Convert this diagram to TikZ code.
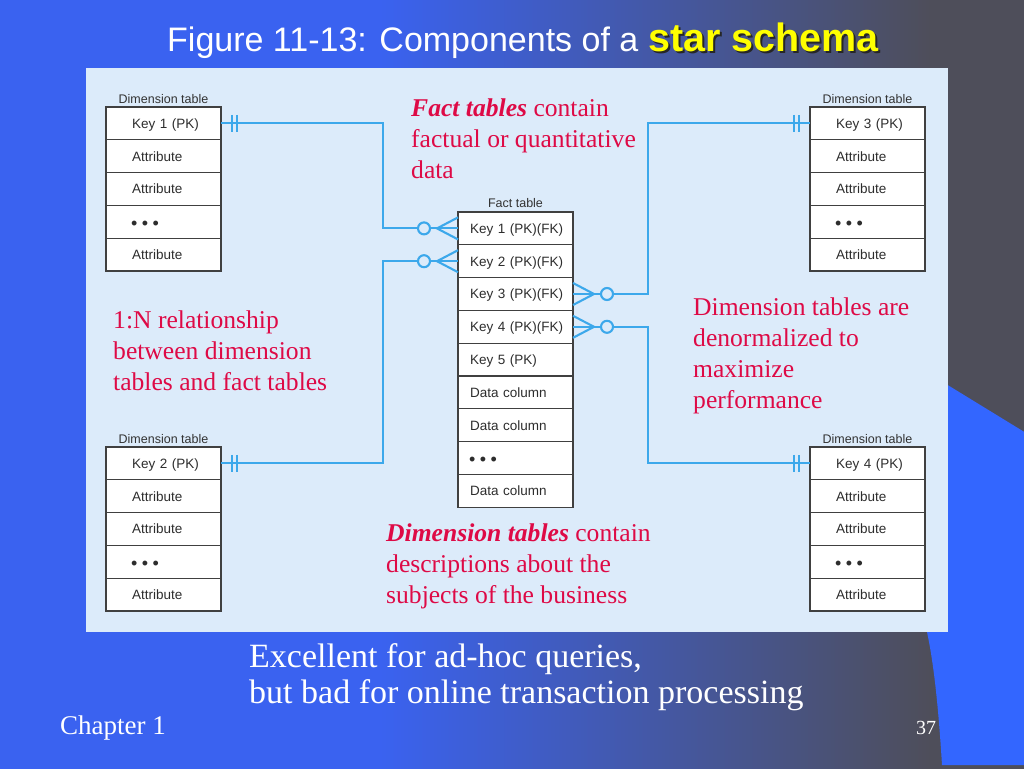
\documentclass[tikz,border=0pt]{standalone}
\usepackage{fontspec}
\setmainfont{Liberation Serif}
\newfontfamily\arialf{Liberation Sans}
\usetikzlibrary{calc}
\definecolor{bgblue}{RGB}{58,98,240}
\definecolor{bggray}{RGB}{78,78,90}
\definecolor{shapeblue}{RGB}{51,102,255}
\definecolor{panelc}{RGB}{220,235,250}
\definecolor{connc}{RGB}{60,168,235}
\definecolor{redtxt}{RGB}{222,10,70}
\definecolor{titleyellow}{RGB}{255,255,0}
\definecolor{celltxt}{RGB}{45,45,45}
\tikzset{
  cell/.style={draw=black!75, fill=white, line width=1.1pt, minimum height=32.8pt,
    text width=115pt, inner xsep=0pt, inner ysep=0pt, outer sep=0pt, align=left,
    text height=11.5pt, text depth=1.8pt,
    font=\arialf\fontsize{13.5}{15}\selectfont, text=celltxt, anchor=north},
  lbl/.style={font=\arialf\fontsize{12.5}{14}\selectfont, text=black!80, anchor=base, inner sep=0pt},
  conn/.style={draw=connc, line width=2.1pt},
  redt/.style={font=\fontsize{25.6}{31}\selectfont, text=redtxt, align=left, anchor=base west, inner sep=0pt},
  whitet/.style={text=white, align=left, anchor=base west, inner sep=0pt},
  onemark/.pic={\draw[conn] (11,-8.5) -- (11,8.5) (16,-8.5) -- (16,8.5);},
  zeromany/.pic={\draw[conn] (0,-11) -- (-21,0) -- (0,11);
                 \draw[conn, fill=panelc] (-34,0) circle (6);}
}
\newcommand\tdots{\raisebox{-3pt}{\fontsize{18}{15}\selectfont\textbullet\hspace{4.5pt}\textbullet\hspace{4.5pt}\textbullet}}
\newcommand\dimtab[4]{%
  \node[cell] (#1-1) at (#2,#3) {\hspace*{26pt}#4};
  \node[cell] (#1-2) at (#1-1.south) {\hspace*{26pt}Attribute};
  \node[cell] (#1-3) at (#1-2.south) {\hspace*{26pt}Attribute};
  \node[cell] (#1-4) at (#1-3.south) {\hspace*{25pt}\tdots};
  \node[cell] (#1-5) at (#1-4.south) {\hspace*{26pt}Attribute};
  \node[lbl] (#1-l) at ($(#1-1.north)+(0,-4)$) {Dimension table};
}
\begin{document}
\begin{tikzpicture}[x=1pt,y=-1pt]
\useasboundingbox (0,0) rectangle (1024,768);
% background
\fill[bgblue] (-2,-2) rectangle (1026,770);
\shade[left color=bgblue, right color=bggray] (380,-2) rectangle (931,770);
\fill[bggray] (929,-2) rectangle (1026,770);
\fill[shapeblue] (915,365) -- (1026,433) -- (1026,765) -- (942,765)
   .. controls (938,700) and (933,660) .. (927,632) -- cycle;
% panel
\fill[panelc] (86,68) rectangle (948,632);
% title
\node[whitet, font=\arialf\fontsize{34}{40}\selectfont] (title) at (167,52) {Figure 11-13: Components of a\ };
\node[anchor=base west, inner sep=0pt, text=black!85, font=\arialf\bfseries\fontsize{39.5}{44}\selectfont]
   (starsh) at ($(title.base east)+(2,2)$) {star schema};
\node[anchor=base west, inner sep=0pt, text=titleyellow, font=\arialf\bfseries\fontsize{39.5}{44}\selectfont]
   (star) at (title.base east) {star schema};
% dimension tables
\dimtab{d1}{163.5}{107}{Key 1 (PK)}
\dimtab{d2}{163.5}{447}{Key 2 (PK)}
\dimtab{d3}{867.5}{107}{Key 3 (PK)}
\dimtab{d4}{867.5}{447}{Key 4 (PK)}
% fact table
\node[cell] (f-1) at (515.5,212) {\hspace*{12pt}Key 1 (PK)(FK)};
\node[cell] (f-2) at (f-1.south) {\hspace*{12pt}Key 2 (PK)(FK)};
\node[cell] (f-3) at (f-2.south) {\hspace*{12pt}Key 3 (PK)(FK)};
\node[cell] (f-4) at (f-3.south) {\hspace*{12pt}Key 4 (PK)(FK)};
\node[cell] (f-5) at (f-4.south) {\hspace*{12pt}Key 5 (PK)};
\node[cell] (f-6) at (f-5.south) {\hspace*{12pt}Data column};
\node[cell] (f-7) at (f-6.south) {\hspace*{12pt}Data column};
\node[cell] (f-8) at (f-7.south) {\hspace*{11pt}\tdots};
\node[cell] (f-9) at (f-8.south) {\hspace*{12pt}Data column};
\node[lbl] (f-l) at ($(f-1.north)+(0,-5)$) {Fact table};
% connectors
\coordinate (vl) at (383,0);
\coordinate (vr) at (648,0);
\draw[conn] (d1-1.east) -- (d1-1.east -| vl) -- (f-1.west -| vl) -- (f-1.west);
\draw[conn] (f-2.west) -- (f-2.west -| vl) -- (d2-1.east -| vl) -- (d2-1.east);
\draw[conn] (f-3.east) -- (f-3.east -| vr) -- (d3-1.west -| vr) -- (d3-1.west);
\draw[conn] (f-4.east) -- (f-4.east -| vr) -- (d4-1.west -| vr) -- (d4-1.west);
\pic at (d1-1.east) {onemark};
\pic at (d2-1.east) {onemark};
\pic[xscale=-1] at (d3-1.west) {onemark};
\pic[xscale=-1] at (d4-1.west) {onemark};
\pic at (f-1.west) {zeromany};
\pic at (f-2.west) {zeromany};
\pic[xscale=-1] at (f-3.east) {zeromany};
\pic[xscale=-1] at (f-4.east) {zeromany};
% red notes (anchor = baseline of last line)
\node[redt] (n1) at (411,178) {\textbf{\textit{Fact tables}} contain\\factual or quantitative\\data};
\node[redt] (n2) at (113,390) {1:N relationship\\between dimension\\tables and fact tables};
\node[redt] (n3) at (693,408) {Dimension tables are\\denormalized to\\maximize\\performance};
\node[redt] (n4) at (386,603) {\textbf{\textit{Dimension tables}} contain\\descriptions about the\\subjects of the business};
% bottom texts
\node[whitet, font=\fontsize{34}{36}\selectfont] (b1) at (249,703) {Excellent for ad-hoc queries,\\but bad for online transaction processing};
\node[whitet, font=\fontsize{27}{30}\selectfont] (ch) at (60,734) {Chapter 1};
\node[whitet, font=\fontsize{20}{24}\selectfont] (pg) at (916,734) {37};
\end{tikzpicture}
\end{document}
